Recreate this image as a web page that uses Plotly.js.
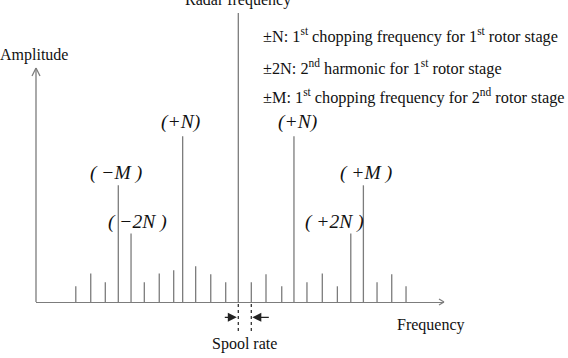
<!DOCTYPE html>
<html>
<head>
<meta charset="utf-8">
<script src="https://cdn.plot.ly/plotly-3.0.1.min.js"></script>
<style>html,body{margin:0;padding:0;background:#fff;}#chart{width:568px;height:358px;}</style>
</head>
<body>
<div id="chart"></div>
<script>
// Frequency offset from the radar frequency, in spool-rate units
var frequencyOffset = [-12.5, -11.35, -10.23, -9.23, -8.25, -7.23, -6.08, -4.97, -4.28, -3.28, -2.12, -0.97, 0,
                       1, 2.13, 3.34, 4.28, 5.28, 6.46, 7.62, 8.65, 9.62, 10.67, 11.8, 12.9];
// Relative amplitude of each spectral line
var amplitude = [15.7, 28.4, 19.7, 116.7, 68.4, 19.7, 28.4, 31.7, 165.7, 35.7, 27.7, 19.7, 289,
                 19.7, 27.7, 15.7, 165.7, 19.7, 28.4, 15.7, 68.4, 116.7, 19.7, 27.7, 15.7];
// Component labels
var componentLabels = ["(+N)", "(+N)", "( \u2212M )", "( \u22122N )", "( +M )", "( +2N )"];
var legendLines = [
  "\u00b1N: 1<sup>st</sup> chopping frequency for 1<sup>st</sup> rotor stage",
  "\u00b12N: 2<sup>nd</sup> harmonic for 1<sup>st</sup> rotor stage",
  "\u00b1M: 1<sup>st</sup> chopping frequency for 2<sup>nd</sup> rotor stage"
];
var axisLabels = {x: "Frequency", y: "Amplitude", carrier: "Radar frequency", spool: "Spool rate"};

var xs = [], ys = [];
for (var i = 0; i < frequencyOffset.length; i++) {
  xs.push(frequencyOffset[i], frequencyOffset[i], null);
  ys.push(0, amplitude[i], null);
}

var serif = "Liberation Serif, Times New Roman, serif";
var txt = "#111";
var gray = "#7c7c7c";

var labelPos = [
  {x: -4.48, y: 180.3}, {x: 4.52, y: 180.3},
  {x: -9.41, y: 128.7}, {x: -7.79, y: 80.3},
  {x: 9.82, y: 128.7}, {x: 7.36, y: 80.3}
];

var annotations = [];
componentLabels.forEach(function (t, k) {
  annotations.push({xref: "x", yref: "y", x: labelPos[k].x, y: labelPos[k].y, text: "<i>" + t + "</i>",
    showarrow: false, xanchor: "center", yanchor: "middle", font: {family: serif, size: 19.5, color: txt}});
});
var legY = [0.881, 0.777, 0.681];
legendLines.forEach(function (t, k) {
  annotations.push({xref: "paper", yref: "paper", x: 0.5515, y: legY[k], text: t, showarrow: false,
    xanchor: "left", yanchor: "middle", font: {family: serif, size: 16.3, color: txt}});
});
annotations.push({xref: "paper", yref: "paper", x: -0.0049, y: 0.818, text: axisLabels.y, showarrow: false,
  xanchor: "center", yanchor: "middle", font: {family: serif, size: 16, color: txt}});
annotations.push({xref: "paper", yref: "paper", x: 0.9674, y: -0.0762, text: axisLabels.x, showarrow: false,
  xanchor: "center", yanchor: "middle", font: {family: serif, size: 16, color: txt}});
annotations.push({xref: "x", yref: "paper", x: 0, y: 1.0, text: axisLabels.carrier, showarrow: false,
  xanchor: "center", yanchor: "middle", font: {family: serif, size: 16, color: txt}});
annotations.push({xref: "x", yref: "paper", x: 0.5, y: -0.1407, text: axisLabels.spool, showarrow: false,
  xanchor: "center", yanchor: "middle", font: {family: serif, size: 16, color: txt}});
// spool-rate arrows
annotations.push({xref: "x", yref: "paper", x: 0, y: -0.0507, text: "", showarrow: true, ax: -15, ay: 0,
  arrowhead: 2, arrowsize: 1.5, arrowwidth: 1.2, arrowcolor: "#222", standoff: 1.5});
annotations.push({xref: "x", yref: "paper", x: 1, y: -0.0507, text: "", showarrow: true, ax: 19, ay: 0,
  arrowhead: 2, arrowsize: 1.5, arrowwidth: 1.2, arrowcolor: "#222", standoff: 1});

var shapes = [
  // y axis line
  {type: "line", xref: "paper", yref: "y", x0: 0, x1: 0, y0: 0, y1: 234, line: {color: gray, width: 1.3}},
  // y axis chevron
  {type: "line", xref: "paper", yref: "paper", xsizemode: "pixel", ysizemode: "pixel", xanchor: 0, yanchor: 0.7748,
    x0: -4, y0: -8, x1: 0, y1: 0, line: {color: gray, width: 1.2}},
  {type: "line", xref: "paper", yref: "paper", xsizemode: "pixel", ysizemode: "pixel", xanchor: 0, yanchor: 0.7748,
    x0: 4, y0: -8, x1: 0, y1: 0, line: {color: gray, width: 1.2}},
  // x axis chevron
  {type: "line", xref: "paper", yref: "paper", xsizemode: "pixel", ysizemode: "pixel", xanchor: 1, yanchor: 0,
    x0: -5, y0: 3, x1: 0, y1: 0, line: {color: gray, width: 1.2}},
  {type: "line", xref: "paper", yref: "paper", xsizemode: "pixel", ysizemode: "pixel", xanchor: 1, yanchor: 0,
    x0: -5, y0: -3, x1: 0, y1: 0, line: {color: gray, width: 1.2}},
  // spool-rate dashed markers
  {type: "line", xref: "x", yref: "paper", ysizemode: "pixel", yanchor: 0, x0: 0, x1: 0, y0: -2, y1: -30,
    line: {color: "#333", width: 1.3, dash: "3px,3px"}},
  {type: "line", xref: "x", yref: "paper", ysizemode: "pixel", yanchor: 0, x0: 1, x1: 1, y0: -2, y1: -30,
    line: {color: "#333", width: 1.3, dash: "3px,3px"}}
];

var trace = {x: xs, y: ys, type: "scatter", mode: "lines", line: {color: gray, width: 1.3},
  hoverinfo: "skip", showlegend: false, cliponaxis: false};

var layout = {
  width: 568, height: 358,
  margin: {l: 36, r: 124, t: 0, b: 56, pad: 0},
  paper_bgcolor: "#fff", plot_bgcolor: "#fff",
  showlegend: false,
  xaxis: {range: [-15.56, 15.82], showgrid: false, zeroline: false, showticklabels: false, ticks: "",
    showline: true, linecolor: gray, linewidth: 1.3},
  yaxis: {range: [0, 302], showgrid: false, zeroline: false, showticklabels: false, ticks: "", showline: false},
  annotations: annotations,
  shapes: shapes
};

Plotly.newPlot("chart", [trace], layout, {staticPlot: true, displayModeBar: false});
</script>
</body>
</html>
